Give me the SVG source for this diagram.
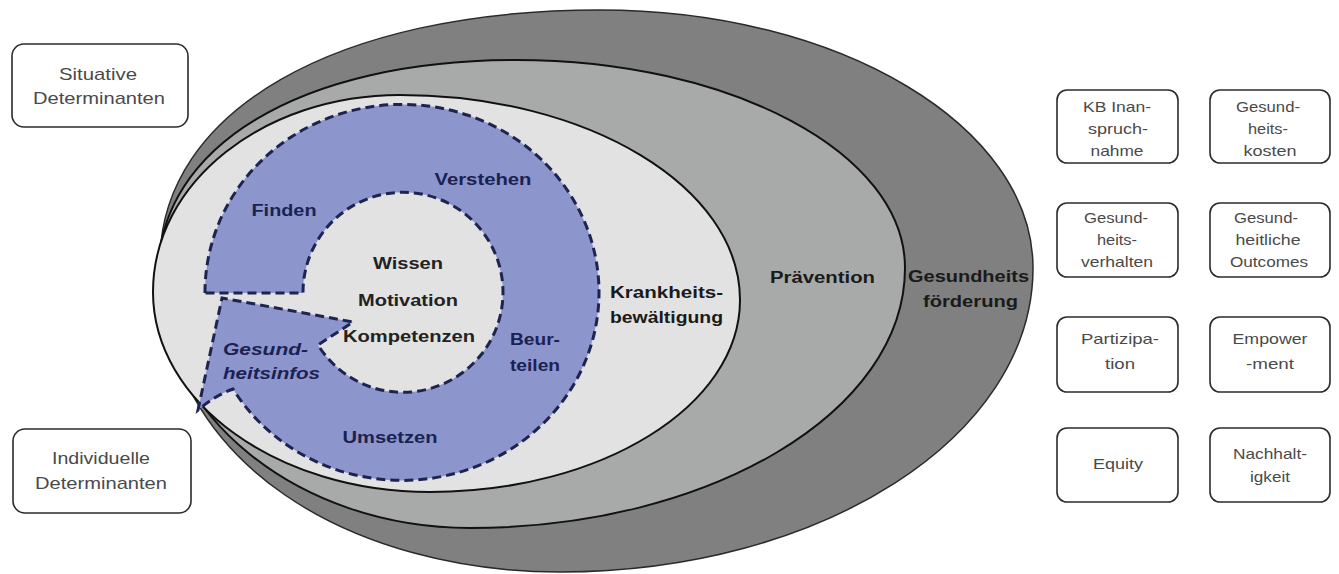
<svg xmlns="http://www.w3.org/2000/svg" width="1339" height="574" viewBox="0 0 1339 574">
<style>
text{font-family:"Liberation Sans",Arial,sans-serif;}
.bx{fill:#fff;stroke:#2b2b2b;stroke-width:1.6;}
.bt{font-size:15px;fill:#4a4a4a;text-anchor:middle;}
.lt{font-size:17px;fill:#4a4a4a;text-anchor:middle;}
.el{font-size:16px;font-weight:bold;fill:#1a1a1a;}
.rt{font-size:16px;font-weight:bold;fill:#1b2252;}
.ct{font-size:16px;font-weight:bold;fill:#222;text-anchor:middle;}
.mid{text-anchor:middle;}
</style>
<rect width="1339" height="574" fill="#fff"/>
<g id="connectors"/>
<g id="gesundheitsfoerderung">
<path d="M160,262 C160,111 336,10 600,10 C839,10 1033,126 1033,268 C1033,437 821,572 560,572 C360,572 160,470 160,262 Z" fill="#7f807f" stroke="#2a2a2a" stroke-width="1.5"/>
<text class="el" x="908" y="282" textLength="121" lengthAdjust="spacingAndGlyphs">Gesundheits</text>
<text class="el" x="923" y="307" textLength="95" lengthAdjust="spacingAndGlyphs">förderung</text>
</g>
<g id="praevention">
<path d="M158,275 C158,146 301,60 516,60 C731,60 905,153 905,268 C905,412 710,528 470,528 C298,528 158,415 158,275 Z" fill="#a8aaa9" stroke="#111" stroke-width="2"/>
<text class="el" x="770" y="283" textLength="105" lengthAdjust="spacingAndGlyphs">Prävention</text>
</g>
<g id="krankheitsbewaeltigung">
<path d="M153,292 C153,182 264,95 400,95 C588,95 740,187 740,300 C740,406 601,492 430,492 C277,492 153,402 153,292 Z" fill="#e2e2e2" stroke="#111" stroke-width="2"/>
<text class="el" x="610" y="298" textLength="113" lengthAdjust="spacingAndGlyphs">Krankheits-</text>
<text class="el" x="610" y="323" textLength="113" lengthAdjust="spacingAndGlyphs">bewältigung</text>
</g>
<g id="ring">
<path d="M205,293 A197,188 0 1 1 233,389 Q216,395 198,410 L222,298 L353,322 L318,345 A100,100 0 1 0 303,293 Z" fill="#8d95cd" stroke="#1d2450" stroke-width="3" stroke-dasharray="9 5" stroke-linejoin="miter"/>
<text class="rt mid" x="284" y="216" textLength="65" lengthAdjust="spacingAndGlyphs">Finden</text>
<text class="rt mid" x="483" y="185" textLength="97" lengthAdjust="spacingAndGlyphs">Verstehen</text>
<text class="rt mid" x="535" y="345" textLength="50" lengthAdjust="spacingAndGlyphs">Beur-</text>
<text class="rt mid" x="535" y="371" textLength="50" lengthAdjust="spacingAndGlyphs">teilen</text>
<text class="rt mid" x="390" y="443" textLength="95" lengthAdjust="spacingAndGlyphs">Umsetzen</text>
<text class="rt" x="223" y="355" font-style="italic" textLength="85" lengthAdjust="spacingAndGlyphs">Gesund-</text>
<text class="rt" x="223" y="379" font-style="italic" textLength="97" lengthAdjust="spacingAndGlyphs">heitsinfos</text>
</g>
<g id="kern">
<text class="ct" x="408" y="269" textLength="70" lengthAdjust="spacingAndGlyphs">Wissen</text>
<text class="ct" x="408" y="306" textLength="100" lengthAdjust="spacingAndGlyphs">Motivation</text>
<text class="ct" x="409" y="342" textLength="132" lengthAdjust="spacingAndGlyphs">Kompetenzen</text>
</g>
<g id="situative">
<rect class="bx" x="12" y="44" width="176" height="83" rx="12"/>
<text class="lt" x="98" y="80" textLength="78" lengthAdjust="spacingAndGlyphs">Situative</text>
<text class="lt" x="99" y="104" textLength="132" lengthAdjust="spacingAndGlyphs">Determinanten</text>
</g>
<g id="individuelle">
<rect class="bx" x="13" y="429" width="178" height="84" rx="12"/>
<text class="lt" x="101" y="464" textLength="98" lengthAdjust="spacingAndGlyphs">Individuelle</text>
<text class="lt" x="101" y="489" textLength="132" lengthAdjust="spacingAndGlyphs">Determinanten</text>
</g>
<g id="kb">
<rect class="bx" x="1057" y="90" width="121" height="73" rx="10"/>
<text class="bt" x="1117" y="112" textLength="68" lengthAdjust="spacingAndGlyphs">KB Inan-</text>
<text class="bt" x="1118" y="134" textLength="60" lengthAdjust="spacingAndGlyphs">spruch-</text>
<text class="bt" x="1117" y="156" textLength="53" lengthAdjust="spacingAndGlyphs">nahme</text>
</g>
<g id="kosten">
<rect class="bx" x="1210" y="90" width="120" height="73" rx="10"/>
<text class="bt" x="1268" y="112" textLength="64" lengthAdjust="spacingAndGlyphs">Gesund-</text>
<text class="bt" x="1268" y="134" textLength="40" lengthAdjust="spacingAndGlyphs">heits-</text>
<text class="bt" x="1270" y="156" textLength="53" lengthAdjust="spacingAndGlyphs">kosten</text>
</g>
<g id="verhalten">
<rect class="bx" x="1057" y="203" width="121" height="74" rx="10"/>
<text class="bt" x="1116" y="223" textLength="64" lengthAdjust="spacingAndGlyphs">Gesund-</text>
<text class="bt" x="1117" y="245" textLength="40" lengthAdjust="spacingAndGlyphs">heits-</text>
<text class="bt" x="1117" y="267" textLength="72" lengthAdjust="spacingAndGlyphs">verhalten</text>
</g>
<g id="outcomes">
<rect class="bx" x="1210" y="203" width="120" height="74" rx="10"/>
<text class="bt" x="1266" y="223" textLength="64" lengthAdjust="spacingAndGlyphs">Gesund-</text>
<text class="bt" x="1268" y="245" textLength="65" lengthAdjust="spacingAndGlyphs">heitliche</text>
<text class="bt" x="1269" y="267" textLength="78" lengthAdjust="spacingAndGlyphs">Outcomes</text>
</g>
<g id="partizipation">
<rect class="bx" x="1057" y="317" width="121" height="75" rx="10"/>
<text class="bt" x="1120" y="344" textLength="78" lengthAdjust="spacingAndGlyphs">Partizipa-</text>
<text class="bt" x="1120" y="369" textLength="30" lengthAdjust="spacingAndGlyphs">tion</text>
</g>
<g id="empowerment">
<rect class="bx" x="1210" y="317" width="120" height="75" rx="10"/>
<text class="bt" x="1270" y="344" textLength="75" lengthAdjust="spacingAndGlyphs">Empower</text>
<text class="bt" x="1270" y="369" textLength="48" lengthAdjust="spacingAndGlyphs">-ment</text>
</g>
<g id="equity">
<rect class="bx" x="1057" y="428" width="121" height="74" rx="10"/>
<text class="bt" x="1118" y="469" textLength="50" lengthAdjust="spacingAndGlyphs">Equity</text>
</g>
<g id="nachhaltigkeit">
<rect class="bx" x="1210" y="428" width="120" height="74" rx="10"/>
<text class="bt" x="1270" y="459" textLength="74" lengthAdjust="spacingAndGlyphs">Nachhalt-</text>
<text class="bt" x="1270" y="482" textLength="40" lengthAdjust="spacingAndGlyphs">igkeit</text>
</g>
</svg>
